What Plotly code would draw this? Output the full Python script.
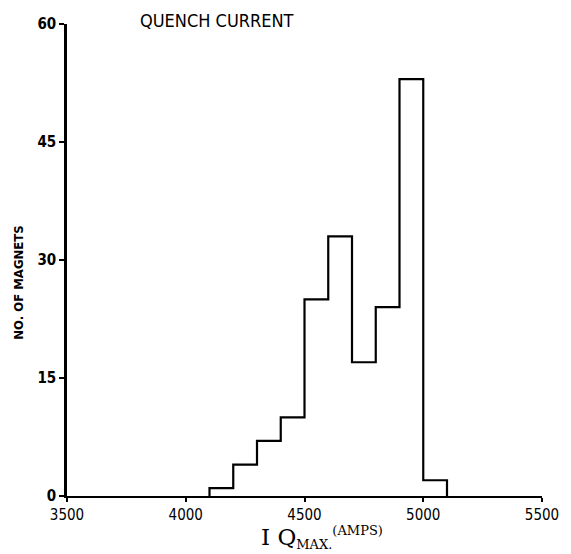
import plotly.graph_objects as go

# Quench current histogram: 100 A bins
bin_edges = [4100, 4200, 4300, 4400, 4500, 4600, 4700, 4800, 4900, 5000, 5100]
counts = [1, 4, 7, 10, 25, 33, 17, 24, 53, 2]

x_ticks = [3500, 4000, 4500, 5000, 5500]
y_ticks = [0, 15, 30, 45, 60]

# Step outline of the histogram (no inner bar edges)
step_x = [bin_edges[0]] + bin_edges[:-1] + [bin_edges[-1]]
step_y = [0] + counts + [0]

fig = go.Figure()
fig.add_trace(go.Scatter(
    x=step_x, y=step_y, mode="lines",
    line=dict(shape="hv", color="black", width=2.2),
    hoverinfo="skip", showlegend=False,
))

tick_font = dict(family="DejaVu Sans Condensed, DejaVu Sans, sans-serif", size=15, color="black")

fig.update_layout(
    width=571, height=554,
    margin=dict(l=67, r=22, t=24, b=58),
    paper_bgcolor="white", plot_bgcolor="white",
    xaxis=dict(
        range=[3500, 5500], tickvals=x_ticks, ticktext=[str(v) for v in x_ticks],
        showgrid=False, zeroline=False, showline=True, linecolor="black", linewidth=2,
        ticks="outside", ticklen=4, tickwidth=2, tickcolor="black",
        tickfont=tick_font,
    ),
    yaxis=dict(
        range=[0, 60], tickvals=y_ticks, ticktext=["<b>%d</b>" % v for v in y_ticks],
        showgrid=False, zeroline=False, showline=True, linecolor="black", linewidth=2.5,
        ticks="outside", ticklen=5, tickwidth=2, tickcolor="black",
        tickfont=tick_font,
    ),
    annotations=[
        dict(text="QUENCH CURRENT", xref="paper", yref="paper",
             x=(219 - 67) / 482, y=(496 - 20) / 472, xanchor="center", yanchor="middle",
             showarrow=False,
             font=dict(family="DejaVu Sans Condensed, DejaVu Sans, sans-serif", size=18, color="black")),
        dict(text="I Q<sub><span style='font-size:13px'>MAX.</span></sub>"
                  "<sup><span style='font-size:13px'>(AMPS)</span></sup>",
             xref="paper", yref="paper",
             x=(326 - 67) / 482, y=(496 - 537) / 472, xanchor="center", yanchor="middle",
             showarrow=False,
             font=dict(family="DejaVu Serif, Liberation Serif, serif", size=23, color="black")),
        dict(text="<b>NO. OF MAGNETS</b>", xref="paper", yref="paper",
             x=-(67 - 17) / 482, y=(496 - 283) / 472, xanchor="center", yanchor="middle",
             textangle=-90, showarrow=False,
             font=dict(family="DejaVu Sans Condensed, DejaVu Sans, sans-serif", size=13, color="black")),
    ],
)

fig.write_html("out.html")
